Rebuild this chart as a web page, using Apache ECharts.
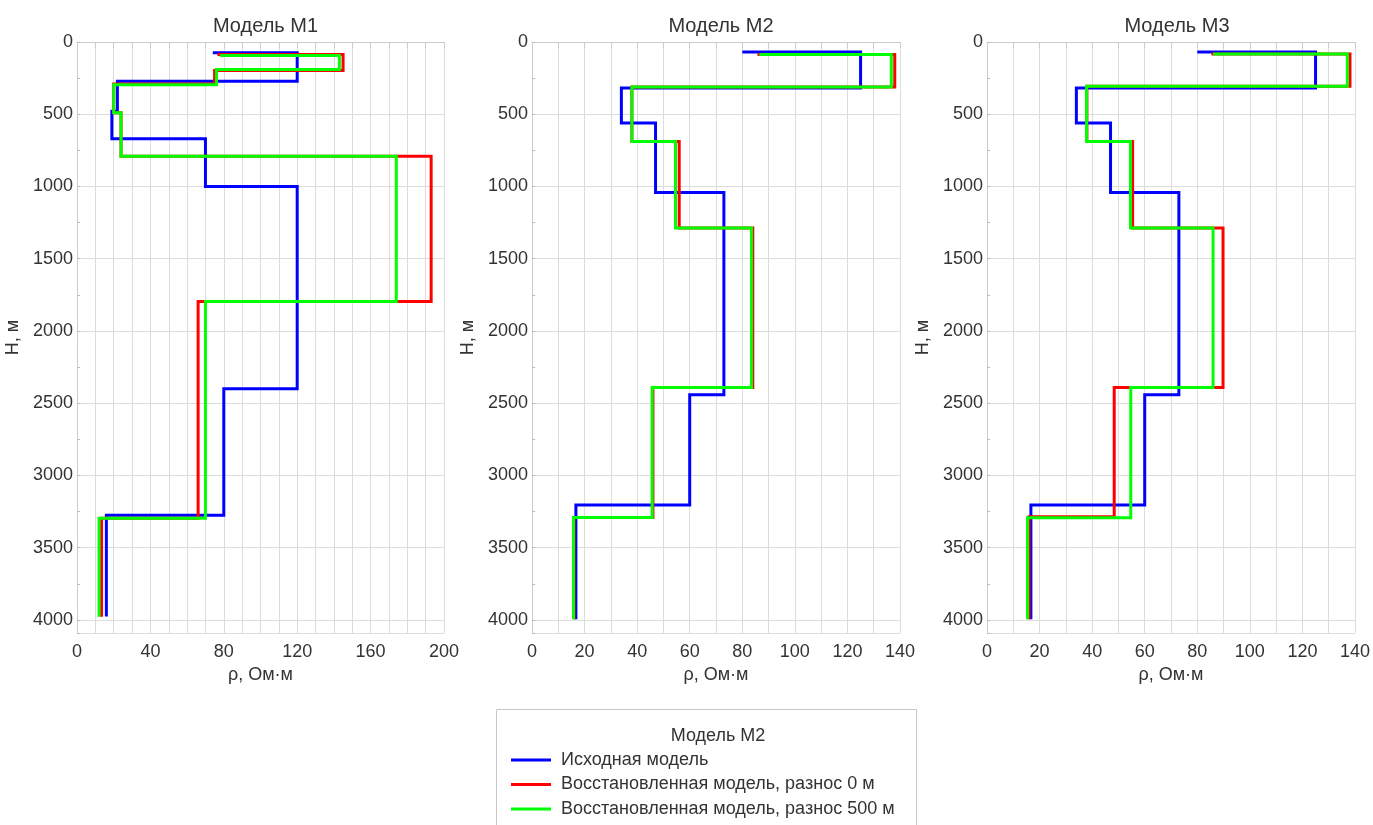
<!DOCTYPE html>
<html>
<head>
<meta charset="utf-8">
<script src="https://cdn.jsdelivr.net/npm/echarts@6/dist/echarts.min.js"></script>
<style>
  html, body { margin: 0; padding: 0; background: #ffffff; }
  #chart { width: 1373px; height: 825px; }
</style>
</head>
<body>
<div id="chart"></div>
<script>
// Resistivity-vs-depth step profiles for three geoelectric models.
// Each profile: rho[i] is drawn as a vertical segment from depth[i] to depth[i + 1];
// consecutive segments are joined by horizontal steps.

const panelTitles = ['Модель М1', 'Модель М2', 'Модель М3'];
const seriesNames = [
  'Исходная модель',
  'Восстановленная модель, разнос 0 м',
  'Восстановленная модель, разнос 500 м'
];
const seriesColors = ['#0000ff', '#ff0000', '#00ff00'];

const rhoMax = [200, 140, 140];
const rhoLabelStep = [40, 20, 20];
const depthMax = 4090;
const depthLabelStep = 500;

// Модель М1
const m1SourceRho = [74, 120, 22, 19, 70, 120, 80, 16];
const m1SourceDepth = [75, 75, 272, 480, 670, 1000, 2400, 3275, 3975];
const m1Rec0Rho = [76.5, 145, 75, 20, 24, 193, 66, 13.4];
const m1Rec0Depth = [87, 87, 198, 290, 490, 790, 1796, 3296, 3977];
const m1Rec500Rho = [78, 143, 76, 20, 24, 174, 70, 12];
const m1Rec500Depth = [94, 94, 191, 295, 490, 791, 1796, 3296, 3977];

// Модель М2
const m2SourceRho = [80, 125, 34, 47, 73, 60, 16.7];
const m2SourceDepth = [69, 69, 318, 560, 1041, 2442, 3204, 3995];
const m2Rec0Rho = [85.8, 138, 38, 56, 84, 46, 16];
const m2Rec0Depth = [87, 87, 311, 688, 1287, 2391, 3291, 3995];
const m2Rec500Rho = [86.5, 136.7, 38, 54.6, 83.5, 45.7, 15.8];
const m2Rec500Depth = [87, 87, 311, 688, 1287, 2391, 3291, 3995];

// Модель М3
const m3SourceRho = [80, 125, 34, 47, 73, 60, 16.7];
const m3SourceDepth = [69, 69, 318, 560, 1041, 2442, 3204, 3995];
const m3Rec0Rho = [85.4, 138.1, 38, 55.4, 89.8, 48.4, 16];
const m3Rec0Depth = [83, 83, 307, 688, 1287, 2391, 3285, 3995];
const m3Rec500Rho = [86, 137.1, 37.9, 54.6, 86, 54.7, 15.4];
const m3Rec500Depth = [83, 83, 307, 688, 1287, 2391, 3292, 3995];

const profiles = [
  [[m1SourceRho, m1SourceDepth], [m1Rec0Rho, m1Rec0Depth], [m1Rec500Rho, m1Rec500Depth]],
  [[m2SourceRho, m2SourceDepth], [m2Rec0Rho, m2Rec0Depth], [m2Rec500Rho, m2Rec500Depth]],
  [[m3SourceRho, m3SourceDepth], [m3Rec0Rho, m3Rec0Depth], [m3Rec500Rho, m3Rec500Depth]]
];

function stepPoints(rho, depth) {
  const pts = [];
  for (let i = 0; i < rho.length; i++) {
    pts.push([rho[i], depth[i]]);
    pts.push([rho[i], depth[i + 1]]);
  }
  return pts;
}

const FONT = "'Liberation Sans', Arial, sans-serif";
const TEXT = '#333333';
const GRIDLINE = '#dcdcdc';
const AXISLINE = '#cccccc';

const gridBoxes = [
  { left: 77, top: 42, width: 367, height: 591 },
  { left: 532, top: 42, width: 368, height: 591 },
  { left: 987, top: 42, width: 370, height: 591 }
];

const grid = [], xAxis = [], yAxis = [], series = [], title = [];

gridBoxes.forEach((g, p) => {
  grid.push(Object.assign({ containLabel: false }, g));
  title.push({
    text: panelTitles[p],
    left: g.left + g.width / 2,
    top: 11,
    textAlign: 'center',
    textStyle: { fontFamily: FONT, fontSize: 20, fontWeight: 'normal', color: TEXT }
  });
  const step = rhoLabelStep[p];
  xAxis.push({
    gridIndex: p, type: 'value', min: 0, max: rhoMax[p], interval: 10,
    name: 'ρ, Ом·м', nameLocation: 'middle', nameGap: 33,
    nameTextStyle: { fontFamily: FONT, fontSize: 18, color: TEXT },
    axisLine: { show: true, lineStyle: { color: AXISLINE, width: 1 } },
    axisTick: { show: true, length: 6, lineStyle: { color: AXISLINE } },
    axisLabel: {
      fontFamily: FONT, fontSize: 18, color: TEXT, margin: 10,
      formatter: v => (v % step === 0 ? String(v) : '')
    },
    splitLine: { show: true, lineStyle: { color: GRIDLINE, width: 1 } }
  });
  // depth axis: labels and grid lines every 500 m
  yAxis.push({
    gridIndex: p, type: 'value', inverse: true, min: 0, max: depthMax, interval: depthLabelStep,
    name: 'Н, м', nameLocation: 'middle', nameGap: 55,
    nameTextStyle: { fontFamily: FONT, fontSize: 18, color: TEXT },
    axisLine: { show: true, lineStyle: { color: AXISLINE, width: 1 } },
    axisTick: { show: false },
    axisLabel: {
      fontFamily: FONT, fontSize: 18, color: TEXT, margin: 4,
      formatter: v => (v % depthLabelStep === 0 ? String(v) : '')
    },
    splitLine: { show: true, lineStyle: { color: GRIDLINE, width: 1 } }
  });
  // depth axis: short inner ticks every 250 m
  yAxis.push({
    gridIndex: p, type: 'value', inverse: true, min: 0, max: depthMax, interval: 250,
    position: 'left',
    axisLine: { show: false },
    axisTick: { show: true, inside: true, length: 3, lineStyle: { color: '#bbbbbb' } },
    axisLabel: { show: false },
    splitLine: { show: false }
  });
  profiles[p].forEach((prof, s) => {
    series.push({
      name: seriesNames[s],
      type: 'line',
      xAxisIndex: p,
      yAxisIndex: p * 2,
      data: stepPoints(prof[0], prof[1]),
      showSymbol: false,
      symbol: 'none',
      silent: true,
      animation: false,
      z: 2 + s,
      lineStyle: { color: seriesColors[s], width: 3, join: 'miter' },
      itemStyle: { color: seriesColors[s] }
    });
  });
});

// legend caption
title.push({
  text: 'Модель М2',
  left: 713,
  top: 722,
  textAlign: 'center',
  textStyle: { fontFamily: FONT, fontSize: 18, fontWeight: 'normal', color: TEXT }
});

const chart = echarts.init(document.getElementById('chart'), null, { renderer: 'canvas' });
chart.setOption({
  backgroundColor: '#ffffff',
  animation: false,
  title,
  grid,
  xAxis,
  yAxis,
  series,
  legend: {
    data: seriesNames,
    orient: 'vertical',
    left: 511,
    top: 751,
    padding: 0,
    icon: 'rect',
    itemWidth: 40,
    itemHeight: 3,
    itemGap: 6.5,
    selectedMode: false,
    textStyle: { fontFamily: FONT, fontSize: 18, color: TEXT, padding: [0, 0, 0, 5] }
  },
  graphic: [{
    type: 'rect',
    z: -1,
    shape: { x: 496.5, y: 709.5, width: 420, height: 140 },
    style: { fill: '#ffffff', stroke: '#c8c8c8', lineWidth: 1 }
  }]
});
</script>
</body>
</html>
